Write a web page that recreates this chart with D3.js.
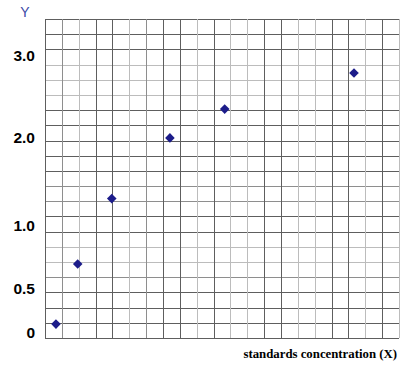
<!DOCTYPE html>
<html>
<head>
<meta charset="utf-8">
<script src="https://cdn.jsdelivr.net/npm/d3@7"></script>
<style>
  body { margin: 0; background: #fff; }
  svg { display: block; }
</style>
</head>
<body>
<div id="chart"></div>
<script>
// data
const concentration = [0.65, 1.94, 3.96, 7.41, 10.66, 18.33] // x, in grid squares
const response = [0.09, 0.69, 1.3, 1.99, 2.34, 2.78]
const yTickValues = [0, 0.5, 1, 2, 3]
const yTickLabels = ['0', '0.5', '1.0', '2.0', '3.0']
const xTitle = 'standards concentration (X)'
const yTitle = 'Y'

// graph paper line weights (it is scanned paper, so the pattern is uneven)
const darkCols = [0, 3, 4, 7, 8, 10, 13, 14, 17, 18, 20]
const midCols = [1, 6]
const darkRows = [0, 1, 2, 3, 7, 8, 11, 12, 13, 14, 15, 19, 20, 21]
const midRows = [4, 9, 10]

const width = 408
const height = 365
const squares = 21

const svg = d3.select('#chart')
  .append('svg')
  .attr('width', width)
  .attr('height', height)

const x = d3.scaleLinear().domain([0, squares]).range([45, 399])
const gridY = d3.scaleLinear().domain([0, squares]).range([338, 19])
// the value axis of the original is not evenly spaced
const y = d3.scaleLinear()
  .domain(yTickValues)
  .range([332, 288, 225, 137, 55])

const lineColor = (i, dark, mid) =>
  dark.includes(i) ? '#5e5e5e' : mid.includes(i) ? '#8e8e8e' : '#bcbcbc'

const grid = svg.append('g')
  .attr('class', 'grid')
  .attr('shape-rendering', 'crispEdges')

// light lines first so dark ones sit on top
const cols = d3.range(squares + 1)
  .sort((a, b) => darkCols.includes(a) - darkCols.includes(b))
const rows = d3.range(squares + 1)
  .sort((a, b) => darkRows.includes(a) - darkRows.includes(b))

grid.selectAll('line.h')
  .data(rows)
  .enter()
  .append('line')
  .attr('class', 'h')
  .attr('x1', x(0))
  .attr('x2', x(squares))
  .attr('y1', d => Math.round(gridY(d)) + 0.5)
  .attr('y2', d => Math.round(gridY(d)) + 0.5)
  .attr('stroke', d => lineColor(d, darkRows, midRows))
  .attr('stroke-width', 1)

grid.selectAll('line.v')
  .data(cols)
  .enter()
  .append('line')
  .attr('class', 'v')
  .attr('y1', gridY(0))
  .attr('y2', gridY(squares))
  .attr('x1', d => Math.round(x(d)) + 0.5)
  .attr('x2', d => Math.round(x(d)) + 0.5)
  .attr('stroke', d => lineColor(d, darkCols, midCols))
  .attr('stroke-width', 1)

// y tick labels
const yAxis = d3.axisLeft(y)
  .tickValues(yTickValues)
  .tickFormat((d, i) => yTickLabels[i])
  .tickSize(0)
  .tickPadding(0)

const yAxisG = svg.append('g')
  .attr('class', 'y-axis')
  .attr('transform', 'translate(35, 0)')
  .call(yAxis)

yAxisG.select('.domain').remove()
yAxisG.selectAll('.tick text')
  .attr('font-family', 'Liberation Sans, Arial, sans-serif')
  .attr('font-size', 15.5)
  .attr('font-weight', 'bold')
  .attr('fill', '#000')
  .attr('dy', '0.36em')

// axis titles
svg.append('text')
  .attr('x', 25)
  .attr('y', 17)
  .attr('text-anchor', 'middle')
  .attr('font-family', 'Liberation Sans, Arial, sans-serif')
  .attr('font-size', 14)
  .attr('fill', '#3c4aa6')
  .text(yTitle)

svg.append('text')
  .attr('x', 397)
  .attr('y', 358)
  .attr('text-anchor', 'end')
  .attr('font-family', 'Liberation Serif, Times New Roman, serif')
  .attr('font-size', 12.8)
  .attr('font-weight', 'bold')
  .attr('fill', '#000')
  .text(xTitle)

// points
const diamond = d3.symbol(d3.symbolSquare, 46)

svg.append('g')
  .attr('class', 'points')
  .selectAll('path')
  .data(concentration.map((c, i) => ({ c, r: response[i] })))
  .enter()
  .append('path')
  .attr('d', diamond)
  .attr('transform', d => `translate(${x(d.c)}, ${y(d.r)}) rotate(45)`)
  .attr('fill', '#1c1c8a')
</script>
</body>
</html>
